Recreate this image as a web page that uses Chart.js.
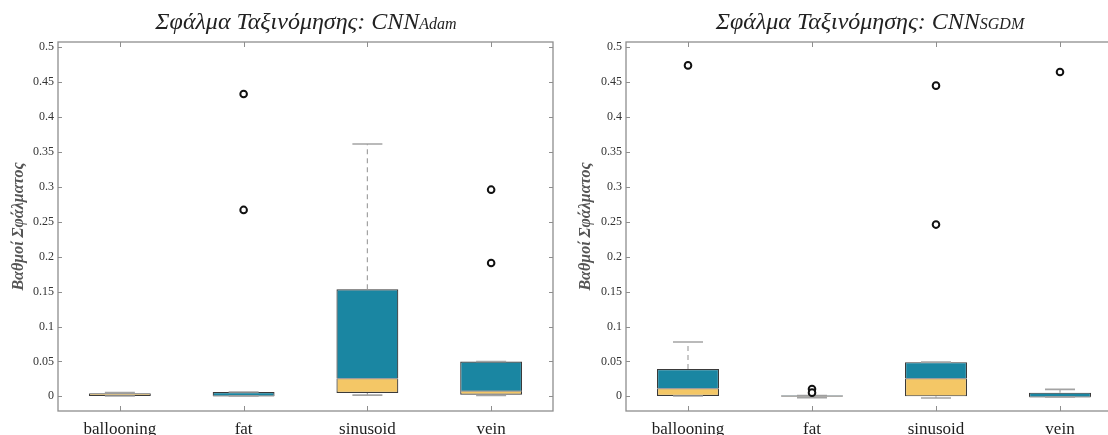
<!DOCTYPE html>
<html>
<head>
<meta charset="utf-8">
<script src="https://cdn.jsdelivr.net/npm/chart.js@4.4.1/dist/chart.umd.min.js"></script>
<style>
  html, body { margin: 0; padding: 0; background: #fff; overflow: hidden; width: 1108px; height: 435px; }
  canvas { position: absolute; top: 0; }
  .title { position: absolute; top: 6px; line-height: 30px; font-family: "Liberation Serif", serif; font-style: italic;
           font-size: 24px; color: #222; white-space: nowrap; transform: translateX(-50%); }
  .title small { font-size: 16px; }
</style>
</head>
<body>
<canvas id="adam" width="554" height="435" style="left:0"></canvas>
<canvas id="sgdm" width="576" height="435" style="left:554px"></canvas>
<div class="title" style="left:306px">Σφάλμα Ταξινόμησης: CNN<small>Adam</small></div>
<div class="title" style="left:870px">Σφάλμα Ταξινόμησης: CNN<small>SGDM</small></div>
<script>
const categories = ['ballooning', 'fat', 'sinusoid', 'vein'];
const yTicks = [0, 0.05, 0.1, 0.15, 0.2, 0.25, 0.3, 0.35, 0.4, 0.45, 0.5];

// CNN Adam
const adamQ1 = [0.0004, 0.0005, 0.0048, 0.0024];
const adamMedian = [0.0040, 0.0006, 0.0255, 0.0076];
const adamQ3 = [0.0046, 0.0062, 0.1533, 0.0500];
const adamLow = [0.0004, 0.0005, 0.0018, 0.0013];
const adamHigh = [0.0053, 0.0062, 0.3615, 0.0500];
const adamOutliers = [[], [0.433, 0.267], [], [0.296, 0.191]];

// CNN SGDM
const sgdmQ1 = [0.0005, -0.0004, 0.0000, -0.0010];
const sgdmMedian = [0.0110, 0.0004, 0.0255, -0.0008];
const sgdmQ3 = [0.0390, 0.0012, 0.0490, 0.0053];
const sgdmLow = [0.0005, -0.0020, -0.0024, -0.0010];
const sgdmHigh = [0.0778, 0.0012, 0.0490, 0.0100];
const sgdmOutliers = [[0.474], [0.0105, 0.0053], [0.445, 0.246], [0.4646]];

const BLUE = '#1a86a2';
const YELLOW = '#f4c766';
const EDGE = '#3a3a3a';
const WHISKER = '#a3a3a3';

// box frame with inward ticks on all four sides
const framePlugin = {
  id: 'frame',
  beforeDatasetsDraw(chart) {
    const { ctx, chartArea: a, scales } = chart;
    ctx.save();
    ctx.strokeStyle = '#8e8e8e';
    ctx.lineWidth = 1.3;
    ctx.strokeRect(a.left, a.top, a.right - a.left, a.bottom - a.top);
    ctx.lineWidth = 1;
    ctx.beginPath();
    yTicks.forEach(v => {
      const y = Math.round(scales.y.getPixelForValue(v)) + 0.5;
      ctx.moveTo(a.left, y); ctx.lineTo(a.left + 4, y);
      ctx.moveTo(a.right, y); ctx.lineTo(a.right - 4, y);
    });
    categories.forEach((c, i) => {
      const x = Math.round(scales.x.getPixelForValue(i)) + 0.5;
      ctx.moveTo(x, a.bottom); ctx.lineTo(x, a.bottom - 5);
      ctx.moveTo(x, a.top); ctx.lineTo(x, a.top + 5);
    });
    ctx.stroke();
    ctx.restore();
  }
};

function boxDatasets(q1, med, q3, lo, hi, outliers) {
  const whiskers = [];
  const caps = [];
  const outs = [];
  categories.forEach((c, i) => {
    whiskers.push({ x: c, y: q3[i] }, { x: c, y: hi[i] }, { x: c, y: null },
                  { x: c, y: lo[i] }, { x: c, y: q1[i] }, { x: c, y: null });
    caps.push({ x: c, y: lo[i] }, { x: c, y: hi[i] });
    outliers[i].forEach(v => outs.push({ x: c, y: v }));
  });
  const bar = {
    type: 'bar', grouped: false, barPercentage: 0.5, categoryPercentage: 1,
    borderColor: EDGE, borderSkipped: false, order: 5
  };
  return [
    { ...bar, data: categories.map((c, i) => [q1[i], med[i]]), backgroundColor: YELLOW,
      borderWidth: { top: 0, left: 1.2, right: 1.2, bottom: 1.2 } },
    { ...bar, data: categories.map((c, i) => [med[i], q3[i]]), backgroundColor: BLUE,
      borderWidth: { top: 1.2, left: 1.2, right: 1.2, bottom: 0 } },
    { type: 'line', data: whiskers, borderColor: WHISKER, borderWidth: 1.2, borderDash: [5, 4],
      pointRadius: 0, spanGaps: false, order: 4 },
    { type: 'line', data: caps, showLine: false, pointStyle: 'line', pointRadius: 15,
      borderColor: WHISKER, pointBorderWidth: 1.6, order: 3 },
    { type: 'line', data: categories.map((c, i) => ({ x: c, y: med[i] })), showLine: false,
      pointStyle: 'line', pointRadius: 30.5, borderColor: '#9c9c9c', pointBorderWidth: 1.3, order: 2 },
    { type: 'line', data: outs, showLine: false, pointStyle: 'circle', pointRadius: 3.3,
      borderColor: '#111', backgroundColor: '#fff', pointBorderWidth: 2, order: 1 }
  ];
}

function makeChart(id, yWidth, titlePad, padRight, sets) {
  new Chart(document.getElementById(id), {
    type: 'bar',
    data: { labels: categories, datasets: sets },
    options: {
      responsive: false,
      animation: false,
      layout: { autoPadding: false, padding: { top: 42, right: padRight, left: 0, bottom: 0 } },
      plugins: { legend: { display: false }, tooltip: { enabled: false } },
      scales: {
        x: {
          grid: { display: false, drawTicks: false },
          border: { display: false },
          ticks: { padding: 8, color: '#1e1e1e', font: { family: 'Liberation Serif', size: 17 } },
          afterFit: s => { s.height = 24; }
        },
        y: {
          min: -0.021, max: 0.5075,
          grid: { display: false, drawTicks: false },
          border: { display: false },
          ticks: { stepSize: 0.05, includeBounds: false, padding: 4, color: '#333',
                   font: { family: 'Liberation Serif', size: 12 },
                   callback: v => String(+v.toFixed(2)) },
          title: { display: true, text: 'Βαθμοί Σφάλματος', color: '#555',
                   padding: { top: titlePad, bottom: 0 },
                   font: { family: 'Liberation Serif', size: 16, style: 'italic', weight: 'bold' } },
          afterFit: s => { s.width = yWidth; }
        }
      }
    },
    plugins: [framePlugin]
  });
}

makeChart('adam', 58, 9, 1, boxDatasets(adamQ1, adamMedian, adamQ3, adamLow, adamHigh, adamOutliers));
makeChart('sgdm', 72, 22, 8, boxDatasets(sgdmQ1, sgdmMedian, sgdmQ3, sgdmLow, sgdmHigh, sgdmOutliers));
</script>
</body>
</html>
